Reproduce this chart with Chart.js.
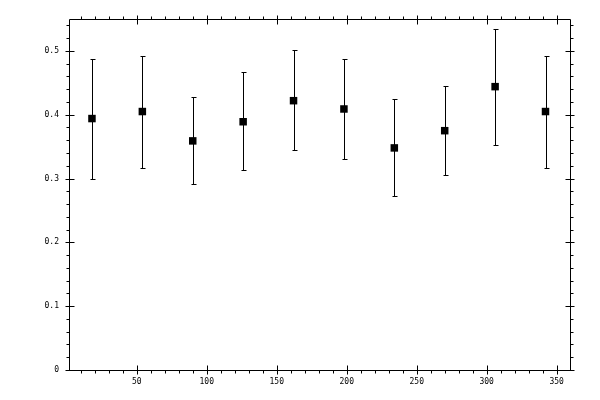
<!DOCTYPE html>
<html>
<head>
  <meta charset="UTF-8" />
  <title>Error bars</title>
  <script src="https://cdn.jsdelivr.net/npm/chart.js"></script>
  <style>
    html, body { margin: 0; padding: 0; background: #fff; }
    #wrap { width: 600px; height: 400px; }
  </style>
</head>
<body>
  <div id="wrap"><canvas id="grafico" width="600" height="400"></canvas></div>

  <script>
    // datos
    const angulos = [18, 54, 90, 126, 162, 198, 234, 270, 306, 342];
    const valores = [0.394, 0.405, 0.359, 0.389, 0.422, 0.409, 0.348, 0.375, 0.444, 0.405];
    const superior = [0.487, 0.492, 0.428, 0.467, 0.501, 0.488, 0.425, 0.445, 0.534, 0.492];
    const inferior = [0.300, 0.316, 0.291, 0.313, 0.344, 0.331, 0.273, 0.305, 0.352, 0.316];

    const ticksX = [50, 100, 150, 200, 250, 300, 350];
    const ticksY = [0, 0.1, 0.2, 0.3, 0.4, 0.5];

    // barras de error + marco con ticks
    const marco = {
      id: "marco",
      afterDatasetsDraw(chart) {
        const ctx = chart.ctx;
        const x = chart.scales.x;
        const y = chart.scales.y;
        const a = chart.chartArea;
        const L = Math.round(a.left) + 0.5, R = Math.round(a.right) + 0.5;
        const T = Math.round(a.top) + 0.5, B = Math.round(a.bottom) + 0.5;
        ctx.save();
        ctx.strokeStyle = "#000";
        ctx.lineWidth = 1;
        ctx.beginPath();

        // error bars
        angulos.forEach((ang, i) => {
          const px = Math.round(x.getPixelForValue(ang)) + 0.5;
          const y1 = Math.round(y.getPixelForValue(superior[i])) + 0.5;
          const y2 = Math.round(y.getPixelForValue(inferior[i])) + 0.5;
          ctx.moveTo(px, y1); ctx.lineTo(px, y2);
          ctx.moveTo(px - 2, y1); ctx.lineTo(px + 3, y1);
          ctx.moveTo(px - 2, y2); ctx.lineTo(px + 3, y2);
        });

        // frame
        ctx.rect(L, T, R - L, B - T);

        // x ticks (bottom + top)
        for (let v = 10; v < x.max; v += 10) {
          if (v < x.min) continue;
          const px = Math.round(x.getPixelForValue(v)) + 0.5;
          const major = ticksX.includes(v);
          ctx.moveTo(px, B + (major ? 4 : 3)); ctx.lineTo(px, major ? B - 5 : B);
          ctx.moveTo(px, T - (major ? 4 : 3)); ctx.lineTo(px, major ? T + 5 : T);
        }
        // y ticks (left + right)
        for (let k = 0; k <= 27; k++) {
          const v = k * 0.02;
          const py = Math.round(y.getPixelForValue(v)) + 0.5;
          const major = k % 5 === 0;
          ctx.moveTo(L - (major ? 4 : 3), py); ctx.lineTo(major ? L + 5 : L, py);
          ctx.moveTo(R + (major ? 4 : 3), py); ctx.lineTo(major ? R - 5 : R, py);
        }
        ctx.stroke();
        ctx.restore();
      },
    };

    const ctx = document.getElementById("grafico").getContext("2d");

    new Chart(ctx, {
      type: "scatter",
      data: {
        datasets: [
          {
            data: angulos.map((a, i) => ({ x: a, y: valores[i] })),
            pointStyle: "rect",
            pointRadius: 5.3,
            backgroundColor: "#000",
            borderColor: "#000",
            borderWidth: 0,
          },
        ],
      },
      options: {
        responsive: false,
        animation: false,
        devicePixelRatio: 1,
        layout: { padding: { left: 0, top: 19, right: 30, bottom: 0 } },
        scales: {
          x: {
            type: "linear",
            min: 1.6,
            max: 359.5,
            afterBuildTicks: (s) => { s.ticks = ticksX.map((v) => ({ value: v })); },
            afterFit: (s) => { s.height = 30; },
            grid: { display: false, drawTicks: false },
            border: { display: false },
            ticks: {
              padding: 7,
              color: "#000",
              font: { family: "'DejaVu Sans Mono', monospace", size: 8 },
            },
          },
          y: {
            type: "linear",
            min: 0,
            max: 0.55,
            afterBuildTicks: (s) => { s.ticks = ticksY.map((v) => ({ value: v })); },
            afterFit: (s) => { s.width = 69; },
            grid: { display: false, drawTicks: false },
            border: { display: false },
            ticks: {
              padding: 10,
              color: "#000",
              font: { family: "'DejaVu Sans Mono', monospace", size: 8 },
            },
          },
        },
        plugins: {
          legend: { display: false },
          tooltip: { enabled: false },
        },
      },
      plugins: [marco],
    });
  </script>
</body>
</html>
